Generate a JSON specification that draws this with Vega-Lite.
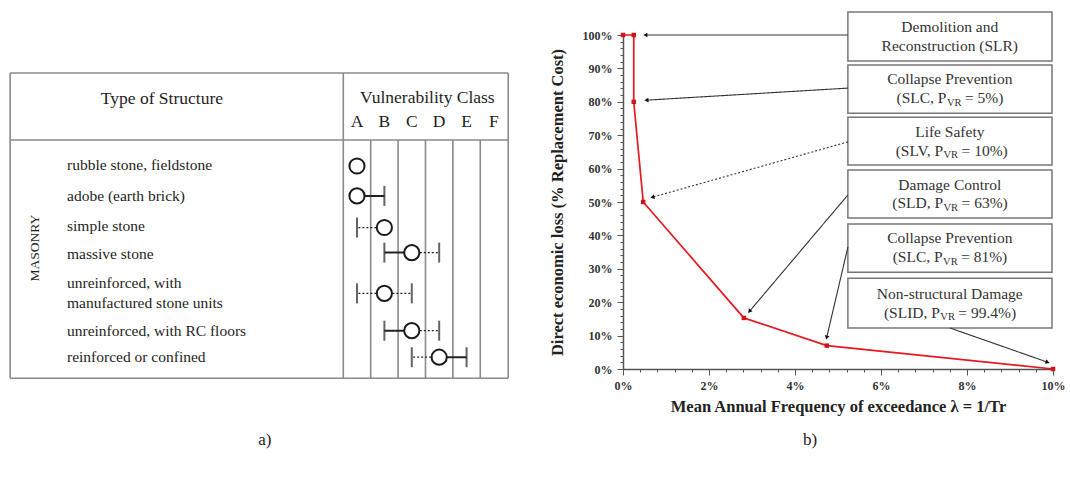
{
  "$schema": "https://vega.github.io/schema/vega-lite/v6.json",
  "padding": {"left": 0, "top": 11, "right": 0, "bottom": 0},
  "background": "white",
  "spacing": 83,
  "bounds": "flush",
  "config": {
    "view": {"stroke": null},
    "font": "Liberation Serif",
    "axis": {
      "labelFont": "Liberation Serif", "labelFontWeight": "bold", "labelFontSize": 12, "labelColor": "#333",
      "titleFont": "Liberation Serif", "titleFontWeight": "bold", "titleFontSize": 16.5, "titleColor": "#222",
      "domainColor": "#555", "domainWidth": 1.5, "tickColor": "#555", "grid": false
    }
  },
  "hconcat": [
    {
      "width": 540,
      "height": 343,
      "encoding": {
        "x": {"field": "x", "type": "quantitative", "scale": {"domain": [-12.03, 7.68], "nice": false, "zero": false}, "axis": null},
        "y": {"field": "y", "type": "quantitative", "scale": {"domain": [-3.596, 8.44], "reverse": true, "nice": false, "zero": false}, "axis": null}
      },
      "layer": [
        {
          "data": {"values": [
            {"x": -11.66, "x2": 6.52, "y": -2.26, "y2": -2.26},
            {"x": -11.66, "x2": 6.52, "y": 0.088, "y2": 0.088},
            {"x": -11.66, "x2": 6.52, "y": 8.45, "y2": 8.45},
            {"x": -11.66, "x2": -11.66, "y": -2.26, "y2": 8.45},
            {"x": 0.5, "x2": 0.5, "y": -2.26, "y2": 8.45},
            {"x": 6.52, "x2": 6.52, "y": -2.26, "y2": 8.45},
            {"x": 1.5, "x2": 1.5, "y": 0.088, "y2": 8.45},
            {"x": 2.5, "x2": 2.5, "y": 0.088, "y2": 8.45},
            {"x": 3.5, "x2": 3.5, "y": 0.088, "y2": 8.45},
            {"x": 4.5, "x2": 4.5, "y": 0.088, "y2": 8.45},
            {"x": 5.5, "x2": 5.5, "y": 0.088, "y2": 8.45}
          ]},
          "mark": {"type": "rule", "stroke": "#8a8a8a", "strokeWidth": 1.6},
          "encoding": {"x2": {"field": "x2"}, "y2": {"field": "y2"}}
        },
        {
          "data": {"values": [
            {"t": "Type of Structure", "x": -6.12, "y": -1.34},
            {"t": "Vulnerability Class", "x": 3.57, "y": -1.375},
            {"t": "A", "x": 1, "y": -0.54},
            {"t": "B", "x": 2, "y": -0.54},
            {"t": "C", "x": 3, "y": -0.54},
            {"t": "D", "x": 4, "y": -0.54},
            {"t": "E", "x": 5, "y": -0.54},
            {"t": "F", "x": 6, "y": -0.54}
          ]},
          "mark": {"type": "text", "align": "center", "baseline": "middle", "fontSize": 17.5, "color": "#1e1e1e"},
          "encoding": {"text": {"field": "t"}}
        },
        {
          "data": {"values": [
            {"t": "rubble stone, fieldstone", "x": -9.584, "y": 0.965},
            {"t": "adobe (earth brick)", "x": -9.584, "y": 2.04},
            {"t": "simple stone", "x": -9.584, "y": 3.105},
            {"t": "massive stone", "x": -9.584, "y": 4.09},
            {"t": "unreinforced, with", "x": -9.584, "y": 5.116},
            {"t": "manufactured stone units", "x": -9.584, "y": 5.818},
            {"t": "unreinforced, with RC floors", "x": -9.584, "y": 6.78},
            {"t": "reinforced or confined", "x": -9.584, "y": 7.71}
          ]},
          "mark": {"type": "text", "align": "left", "baseline": "middle", "fontSize": 15.5, "color": "#1e1e1e"},
          "encoding": {"text": {"field": "t"}}
        },
        {
          "data": {"values": [{"t": "MASONRY", "x": -10.75, "y": 3.88}]},
          "mark": {"type": "text", "align": "center", "baseline": "middle", "fontSize": 13.5, "angle": 270, "color": "#1e1e1e"},
          "encoding": {"text": {"field": "t"}}
        },
        {
          "data": {"values": [{"t": "a)", "x": -2.36, "y": 10.61}]},
          "mark": {"type": "text", "align": "center", "baseline": "middle", "fontSize": 17, "color": "#222"},
          "encoding": {"text": {"field": "t"}}
        },
        {
          "data": {"values": [
            {"x": 1, "x2": 2, "y": 2.05, "kind": "probable"},
            {"x": 2, "x2": 1, "y": 3.16, "kind": "exceptional"},
            {"x": 3, "x2": 2, "y": 4.04, "kind": "probable"},
            {"x": 3, "x2": 4, "y": 4.04, "kind": "exceptional"},
            {"x": 2, "x2": 1, "y": 5.47, "kind": "exceptional"},
            {"x": 2, "x2": 3, "y": 5.47, "kind": "exceptional"},
            {"x": 3, "x2": 2, "y": 6.78, "kind": "probable"},
            {"x": 3, "x2": 4, "y": 6.78, "kind": "exceptional"},
            {"x": 4, "x2": 3, "y": 7.71, "kind": "exceptional"},
            {"x": 4, "x2": 5, "y": 7.71, "kind": "probable"}
          ]},
          "mark": {"type": "rule", "color": "#222"},
          "encoding": {
            "x2": {"field": "x2"},
            "strokeDash": {"field": "kind", "type": "nominal", "scale": {"domain": ["probable", "exceptional"], "range": [[1, 0], [2, 2]]}, "legend": null},
            "strokeWidth": {"field": "kind", "type": "nominal", "scale": {"domain": ["probable", "exceptional"], "range": [2, 1.3]}, "legend": null}
          }
        },
        {
          "data": {"values": [
            {"x": 2, "y": 2.05}, {"x": 1, "y": 3.16}, {"x": 2, "y": 4.04}, {"x": 4, "y": 4.04},
            {"x": 1, "y": 5.47}, {"x": 3, "y": 5.47}, {"x": 2, "y": 6.78}, {"x": 4, "y": 6.78},
            {"x": 3, "y": 7.71}, {"x": 5, "y": 7.71}
          ]},
          "mark": {"type": "tick", "orient": "vertical", "color": "#222", "size": 20, "thickness": 2},
          "encoding": {}
        },
        {
          "data": {"values": [
            {"x": 1, "y": 1.0}, {"x": 1, "y": 2.05}, {"x": 2, "y": 3.16}, {"x": 3, "y": 4.04},
            {"x": 2, "y": 5.47}, {"x": 3, "y": 6.78}, {"x": 4, "y": 7.71}
          ]},
          "mark": {"type": "point", "shape": "circle", "filled": true, "fill": "white", "stroke": "#1a1a1a", "strokeWidth": 2, "size": 230, "opacity": 1},
          "encoding": {}
        }
      ]
    },
    {
      "width": 430,
      "height": 334,
      "encoding": {
        "x": {
          "field": "f", "type": "quantitative",
          "scale": {"domain": [0, 10], "nice": false, "zero": false},
          "axis": {
            "title": "Mean Annual Frequency of exceedance λ = 1/Tr",
            "values": [0, 0.4, 0.8, 1.2, 1.6, 2, 2.4, 2.8, 3.2, 3.6, 4, 4.4, 4.8, 5.2, 5.6, 6, 6.4, 6.8, 7.2, 7.6, 8, 8.4, 8.8, 9.2, 9.6, 10],
            "labelExpr": "datum.value % 2 === 0 ? datum.value + '%' : ''",
            "tickSize": {"condition": {"test": "datum.value % 2 === 0", "value": 6}, "value": 3},
            "labelFlush": false, "labelOverlap": false, "labelPadding": 5, "titlePadding": 7
          }
        },
        "y": {
          "field": "loss", "type": "quantitative",
          "scale": {"domain": [0, 100], "nice": false, "zero": false},
          "axis": {
            "title": "Direct economic loss (% Replacement Cost)",
            "values": [0, 2, 4, 6, 8, 10, 12, 14, 16, 18, 20, 22, 24, 26, 28, 30, 32, 34, 36, 38, 40, 42, 44, 46, 48, 50, 52, 54, 56, 58, 60, 62, 64, 66, 68, 70, 72, 74, 76, 78, 80, 82, 84, 86, 88, 90, 92, 94, 96, 98, 100],
            "labelExpr": "datum.value % 10 === 0 ? datum.value + '%' : ''",
            "tickSize": {"condition": {"test": "datum.value % 10 === 0", "value": 6}, "value": 3},
            "labelFlush": false, "labelOverlap": false, "labelPadding": 5, "titlePadding": 17
          }
        }
      },
      "layer": [
        {
          "data": {"values": [
            {"f": 5.23, "f2": 9.977, "loss": 106.9, "loss2": 92.2},
            {"f": 5.23, "f2": 9.977, "loss": 91.0, "loss2": 76.6},
            {"f": 5.23, "f2": 9.977, "loss": 75.4, "loss2": 61.1},
            {"f": 5.23, "f2": 9.977, "loss": 59.6, "loss2": 45.2},
            {"f": 5.23, "f2": 9.977, "loss": 43.4, "loss2": 29.0},
            {"f": 5.23, "f2": 9.977, "loss": 27.2, "loss2": 12.3}
          ]},
          "mark": {"type": "rect", "fill": "white", "stroke": "#777", "strokeWidth": 1.5},
          "encoding": {"x2": {"field": "f2"}, "y2": {"field": "loss2"}}
        },
        {
          "data": {"values": [
            {"f": 5.23, "loss": 100, "f2": 0.535, "loss2": 100, "kind": "solid"},
            {"f": 5.23, "loss": 84.1, "f2": 0.56, "loss2": 80.5, "kind": "solid"},
            {"f": 5.23, "loss": 68.0, "f2": 0.70, "loss2": 51.5, "kind": "dashed"},
            {"f": 5.23, "loss": 52.1, "f2": 2.95, "loss2": 17.4, "kind": "solid"},
            {"f": 5.23, "loss": 36.5, "f2": 4.74, "loss2": 9.6, "kind": "solid"},
            {"f": 7.60, "loss": 12.3, "f2": 9.86, "loss2": 2.1, "kind": "solid"}
          ]},
          "mark": {"type": "rule", "color": "#333", "strokeWidth": 1.1},
          "encoding": {
            "x2": {"field": "f2"}, "y2": {"field": "loss2"},
            "strokeDash": {"field": "kind", "type": "nominal", "scale": {"domain": ["solid", "dashed"], "range": [[1, 0], [7, 4]]}, "legend": null}
          }
        },
        {
          "data": {"values": [
            {"f": 0.535, "loss": 100, "ang": 270},
            {"f": 0.56, "loss": 80.5, "ang": 266.6},
            {"f": 0.70, "loss": 51.5, "ang": 254.2},
            {"f": 2.95, "loss": 17.4, "ang": 220.2},
            {"f": 4.74, "loss": 9.6, "ang": 193.1},
            {"f": 9.86, "loss": 2.1, "ang": 109.3}
          ]},
          "mark": {"type": "point", "shape": "triangle", "filled": true, "color": "#111", "size": 22, "opacity": 1},
          "encoding": {"angle": {"field": "ang", "type": "quantitative", "scale": null}}
        },
        {
          "data": {"values": [
            {"i": 0, "f": 0, "loss": 100},
            {"i": 1, "f": 0.25, "loss": 100},
            {"i": 2, "f": 0.25, "loss": 80},
            {"i": 3, "f": 0.47, "loss": 50},
            {"i": 4, "f": 2.81, "loss": 15.3},
            {"i": 5, "f": 4.74, "loss": 7},
            {"i": 6, "f": 10, "loss": 0}
          ]},
          "layer": [
            {"mark": {"type": "line", "color": "#e3191f", "strokeWidth": 1.7}, "encoding": {"order": {"field": "i", "type": "quantitative"}}},
            {"mark": {"type": "point", "shape": "square", "filled": true, "color": "#d0141a", "size": 20, "opacity": 1}, "encoding": {}}
          ]
        },
        {
          "data": {"values": [
            {"t": "Demolition and", "f": 7.60, "loss": 102.4},
            {"t": "Reconstruction (SLR)", "f": 7.60, "loss": 96.7},
            {"t": "Collapse Prevention", "f": 7.60, "loss": 86.7},
            {"t": "Life Safety", "f": 7.60, "loss": 71.1},
            {"t": "Damage Control", "f": 7.60, "loss": 55.2},
            {"t": "Collapse Prevention", "f": 7.60, "loss": 39.1},
            {"t": "Non-structural Damage", "f": 7.60, "loss": 22.6}
          ]},
          "mark": {"type": "text", "align": "center", "baseline": "middle", "fontSize": 15.5, "color": "#333"},
          "encoding": {"text": {"field": "t"}}
        },
        {
          "data": {"values": [
            {"t": "(SLC, P", "f": 7.523, "loss": 81.0},
            {"t": "(SLV, P", "f": 7.444, "loss": 65.4},
            {"t": "(SLD, P", "f": 7.444, "loss": 49.6},
            {"t": "(SLC, P", "f": 7.433, "loss": 33.4},
            {"t": "(SLID, P", "f": 7.370, "loss": 16.9}
          ]},
          "mark": {"type": "text", "align": "right", "baseline": "middle", "fontSize": 15.5, "color": "#333"},
          "encoding": {"text": {"field": "t"}}
        },
        {
          "data": {"values": [
            {"t": "VR", "f": 7.533, "loss": 79.7},
            {"t": "VR", "f": 7.454, "loss": 64.1},
            {"t": "VR", "f": 7.454, "loss": 48.3},
            {"t": "VR", "f": 7.443, "loss": 32.1},
            {"t": "VR", "f": 7.380, "loss": 15.6}
          ]},
          "mark": {"type": "text", "align": "left", "baseline": "middle", "fontSize": 10.5, "color": "#333"},
          "encoding": {"text": {"field": "t"}}
        },
        {
          "data": {"values": [
            {"t": "= 5%)", "f": 7.953, "loss": 81.0},
            {"t": "= 10%)", "f": 7.874, "loss": 65.4},
            {"t": "= 63%)", "f": 7.874, "loss": 49.6},
            {"t": "= 81%)", "f": 7.862, "loss": 33.4},
            {"t": "= 99.4%)", "f": 7.799, "loss": 16.9}
          ]},
          "mark": {"type": "text", "align": "left", "baseline": "middle", "fontSize": 15.5, "color": "#333"},
          "encoding": {"text": {"field": "t"}}
        },
        {
          "data": {"values": [{"t": "b)", "f": 4.35, "loss": -21.3}]},
          "mark": {"type": "text", "align": "center", "baseline": "middle", "fontSize": 17, "color": "#222"},
          "encoding": {"text": {"field": "t"}}
        }
      ]
    }
  ]
}
